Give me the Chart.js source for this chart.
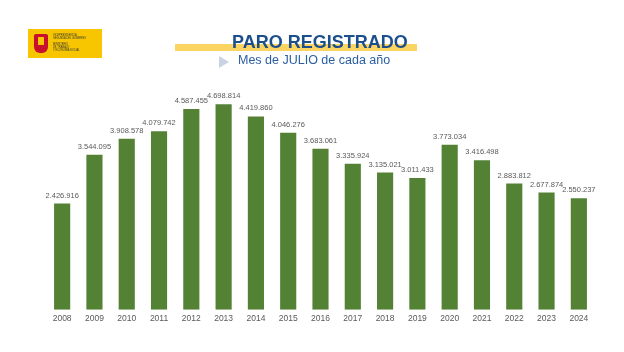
<!DOCTYPE html>
<html><head><meta charset="utf-8">
<script src="https://cdn.jsdelivr.net/npm/chart.js@4"></script>
<style>
html,body{margin:0;padding:0;background:#fff;width:624px;height:352px;overflow:hidden;font-family:"Liberation Sans",Arial,sans-serif;}
#wrap{position:relative;width:624px;height:352px;}
#c{position:absolute;left:0;top:0;}
.logo{position:absolute;left:28px;top:29px;width:74px;height:29px;background:#f7c600;}
.logo .arms{position:absolute;left:6px;top:5px;width:14px;height:19px;background:#c8102e;border-radius:2px 2px 6px 6px;}
.logo .arms:before{content:"";position:absolute;left:4px;top:3px;width:6px;height:8px;background:#f7c600;}
.logo .t{position:absolute;left:25px;font-size:2.6px;line-height:3px;color:#333;white-space:nowrap;}
.band{position:absolute;left:175px;top:44px;width:242px;height:7px;background:#fcd462;}
.title{position:absolute;left:232px;top:32px;font-weight:bold;font-size:18px;color:#1b4f8c;white-space:nowrap;}
.sub{position:absolute;left:238px;top:53px;font-size:12.5px;color:#2a5ea3;white-space:nowrap;}
.chev{position:absolute;left:219px;top:56px;width:0;height:0;border-top:6px solid transparent;border-bottom:6px solid transparent;border-left:10px solid #c9d3e3;}
</style></head><body>
<div id="wrap">
<canvas id="c" width="624" height="352"></canvas>
<div class="logo"><div class="arms"></div>
<div class="t" style="top:5px">VICEPRESIDENCIA<br>SEGUNDA DEL GOBIERNO</div>
<div class="t" style="top:14px">MINISTERIO<br>DE TRABAJO<br>Y ECONOMÍA SOCIAL</div></div>
<div class="band"></div>
<div class="title">PARO REGISTRADO</div>
<div class="chev"></div>
<div class="sub">Mes de JULIO de cada año</div>
</div>
<script>
const years = ["2008","2009","2010","2011","2012","2013","2014","2015","2016","2017","2018","2019","2020","2021","2022","2023","2024"];
const paro = [2426916,3544095,3908578,4079742,4587455,4698814,4419860,4046276,3683061,3335924,3135021,3011433,3773034,3416498,2883812,2677874,2550237];

function fmt(v){return String(v).replace(/\B(?=(\d{3})+(?!\d))/g,".");}

const labelPlugin = {
  id:'vlabels',
  afterDatasetsDraw(chart){
    const ctx = chart.ctx;
    const meta = chart.getDatasetMeta(0);
    ctx.save();
    ctx.font = '7.5px "Liberation Sans", Arial, sans-serif';
    ctx.fillStyle = '#595959';
    ctx.textAlign = 'center';
    ctx.textBaseline = 'alphabetic';
    meta.data.forEach((bar,i)=>{
      ctx.fillText(fmt(paro[i]), bar.x, bar.y - 6);
    });
    ctx.restore();
  }
};

new Chart(document.getElementById('c'), {
  type:'bar',
  data:{labels:years, datasets:[{data:paro, backgroundColor:'#548235', barPercentage:0.5, categoryPercentage:1}]},
  options:{
    responsive:false, animation:false,
    layout:{padding:{left:46,right:29,top:91,bottom:24}},
    plugins:{legend:{display:false}, tooltip:{enabled:false}},
    scales:{
      x:{grid:{display:false, drawTicks:false}, border:{display:false},
         ticks:{color:'#595959', font:{family:'"Liberation Sans", Arial, sans-serif', size:8.5}, padding:4, maxRotation:0}},
      y:{display:false, min:0, max:5000000}
    }
  },
  plugins:[labelPlugin]
});
</script>
</body></html>
